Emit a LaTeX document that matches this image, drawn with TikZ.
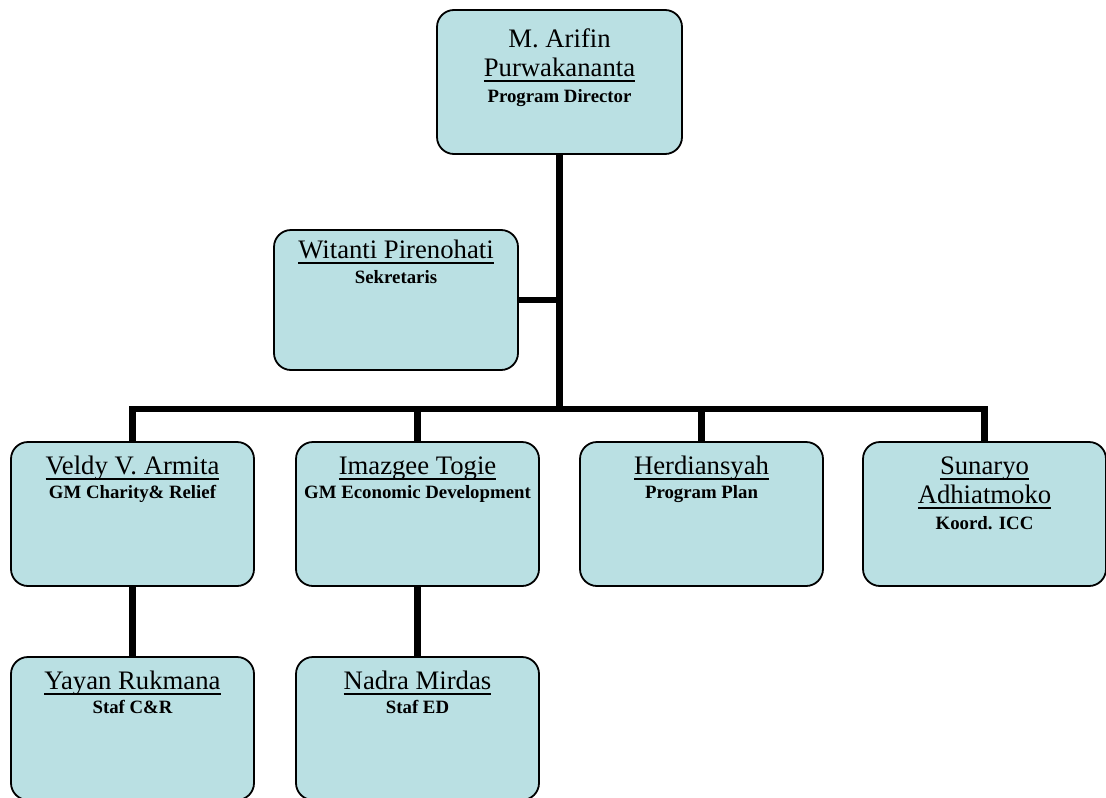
\documentclass[tikz,border=0pt]{standalone}
\usepackage{fontspec}
\setmainfont{Liberation Serif}
\usetikzlibrary{calc}

% person name, underlined with a thin rule just under the baseline
\newcommand\nameul[1]{\setbox0=\hbox{#1}\rlap{\rule[-5.5pt]{\wd0}{1.5pt}}\box0}

\definecolor{boxfill}{RGB}{186,224,227}

\tikzset{
  orgbox/.style={draw=black, line width=1.8pt, fill=boxfill, rounded corners=17pt,
                 minimum width=243pt, minimum height=144pt, inner sep=0pt},
  conn/.style={line width=6.5pt, line join=miter, line cap=butt},
  pname/.style={anchor=base, inner sep=0pt, font=\fontsize{26.7pt}{30pt}\selectfont},
  prole/.style={anchor=base, inner sep=0pt, font=\fontsize{18.8pt}{22pt}\selectfont\bfseries},
}

\begin{document}
\begin{tikzpicture}[x=1pt, y=-1pt]
\useasboundingbox (0,0) rectangle (1106,798);

% boxes
\node[orgbox, minimum width=245pt] (dir)  at (559.5,82) {};
\node[orgbox, minimum width=244pt, minimum height=140pt] (sek) at (396,300) {};
\node[orgbox] (gmcr) at (132.5,514) {};
\node[orgbox] (gmed) at (417.5,514) {};
\node[orgbox] (plan) at (701.5,514) {};
\node[orgbox] (icc)  at (984.5,514) {};
\node[orgbox, minimum height=143pt] (stcr) at (132.5,728.5) {};
\node[orgbox, minimum height=143pt] (sted) at (417.5,728.5) {};

% connectors
\coordinate (hub) at (dir.south |- 0,409);
\draw[conn] (dir.south) -- (hub);
\draw[conn] (sek.east) -- (sek.east -| hub);
\draw[conn] (gmcr.north) |- (hub) -| (icc.north);
\draw[conn] (gmed.north) -- (gmed.north |- hub);
\draw[conn] (plan.north) -- (plan.north |- hub);
\draw[conn] (gmcr.south) -- (stcr.north);
\draw[conn] (gmed.south) -- (sted.north);

% texts
\node[pname] (dir-a) at ($(dir.north)+(0,38)$) {M. Arifin};
\node[pname] (dir-b) at ($(dir.north)+(0,67)$) {\nameul{Purwakananta}};
\node[prole] (dir-c) at ($(dir.north)+(0,93)$) {Program Director};

\node[pname] (sek-a) at ($(sek.north)+(0,29)$) {\nameul{Witanti Pirenohati}};
\node[prole] (sek-b) at ($(sek.north)+(0,54)$) {Sekretaris};

\node[pname] (gmcr-a) at ($(gmcr.north)+(0,33)$) {\nameul{Veldy V. Armita}};
\node[prole] (gmcr-b) at ($(gmcr.north)+(0,57)$) {GM Charity\& Relief};

\node[pname] (gmed-a) at ($(gmed.north)+(0,33)$) {\nameul{Imazgee Togie}};
\node[prole] (gmed-b) at ($(gmed.north)+(0,57)$) {GM Economic Development};

\node[pname] (plan-a) at ($(plan.north)+(0,33)$) {\nameul{Herdiansyah}};
\node[prole] (plan-b) at ($(plan.north)+(0,57)$) {Program Plan};

\node[pname] (icc-a) at ($(icc.north)+(0,33)$) {\nameul{Sunaryo}};
\node[pname] (icc-b) at ($(icc.north)+(0,62)$) {\nameul{Adhiatmoko}};
\node[prole] (icc-c) at ($(icc.north)+(0,88)$) {Koord. ICC};

\node[pname] (stcr-a) at ($(stcr.north)+(0,33)$) {\nameul{Yayan Rukmana}};
\node[prole] (stcr-b) at ($(stcr.north)+(0,57)$) {Staf C\&R};

\node[pname] (sted-a) at ($(sted.north)+(0,33)$) {\nameul{Nadra Mirdas}};
\node[prole] (sted-b) at ($(sted.north)+(0,57)$) {Staf ED};
\end{tikzpicture}
\end{document}
